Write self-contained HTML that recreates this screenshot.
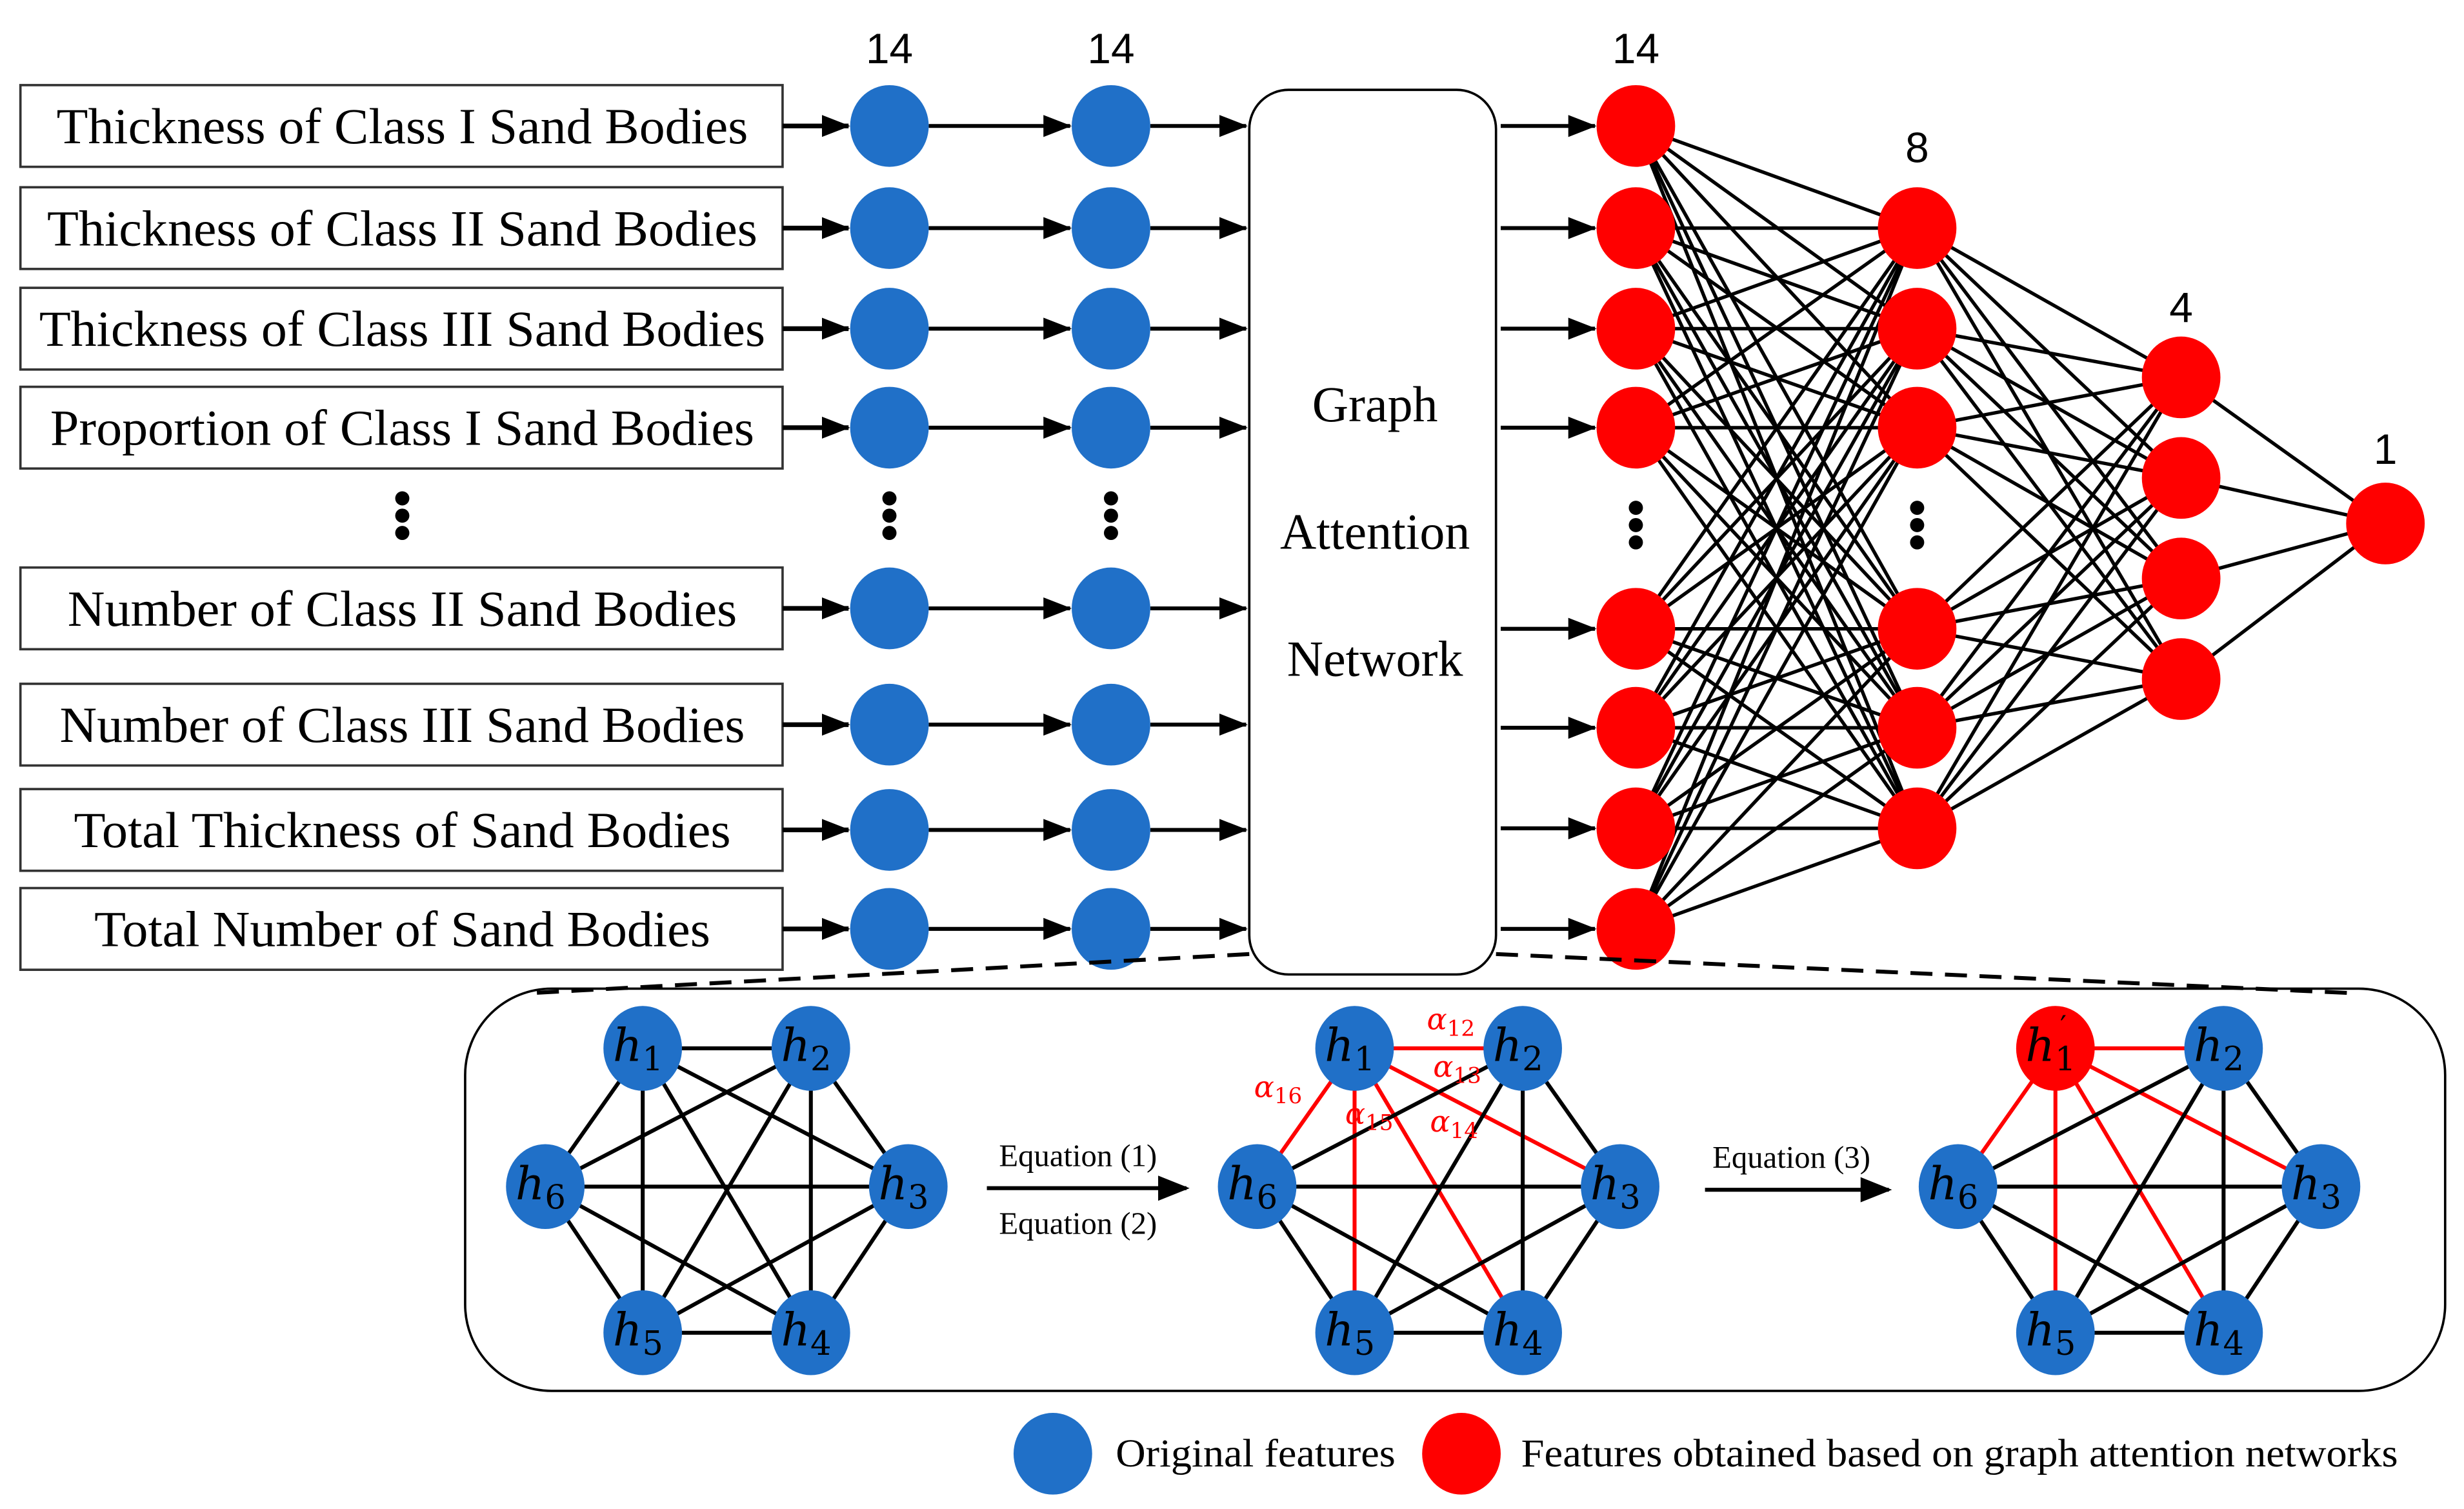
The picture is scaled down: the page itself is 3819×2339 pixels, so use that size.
<!DOCTYPE html>
<html><head><meta charset="utf-8"><style>html,body{margin:0;padding:0;background:#fff}svg{display:block}</style></head>
<body>
<svg id="s" xmlns="http://www.w3.org/2000/svg" width="3819" height="2339" viewBox="0 0 1568 960">
<defs><marker id="ar" markerWidth="18" markerHeight="16" refX="17" refY="8" orient="auto" markerUnits="userSpaceOnUse" viewBox="0 0 18 16"><path d="M0,1 L18,8 L0,15 z" fill="#000"/></marker>
<marker id="ar2" markerWidth="20" markerHeight="20" refX="18" refY="10" orient="auto" markerUnits="userSpaceOnUse" viewBox="0 0 20 20"><path d="M0,2 L20,10 L0,18 z" fill="#000"/></marker></defs>
<g id="g"></g>
</svg>
<script>
const NS="http://www.w3.org/2000/svg",g=document.getElementById('g');
function el(t,a,txt){const e=document.createElementNS(NS,t);for(const k in a)e.setAttribute(k,a[k]);if(txt!==undefined)e.textContent=txt;g.appendChild(e);return e;}
const B="#2070C8",R="#FF0000";
const rows=[80,145,209,272,387,461,528,591];
const labels=["Thickness of Class I Sand Bodies","Thickness of Class II Sand Bodies","Thickness of Class III Sand Bodies","Proportion of Class I Sand Bodies","Number of Class II Sand Bodies","Number of Class III Sand Bodies","Total Thickness of Sand Bodies","Total Number of Sand Bodies"];
const tl=[440,452,462,448,426,436,418,392];
rows.forEach((y,i)=>{
 el('rect',{x:13,y:y-26,width:485,height:52,fill:'#fff',stroke:'#333','stroke-width':1.5});
 el('text',{x:256,y:y+11,'text-anchor':'middle','font-family':'Liberation Serif, serif','font-size':32,textLength:tl[i],lengthAdjust:'spacingAndGlyphs'},labels[i]);
 el('line',{x1:498,y1:y,x2:540,y2:y,stroke:'#000','stroke-width':3,'marker-end':'url(#ar)'});
 el('line',{x1:591,y1:y,x2:681,y2:y,stroke:'#000','stroke-width':2.5,'marker-end':'url(#ar)'});
 el('line',{x1:732,y1:y,x2:793,y2:y,stroke:'#000','stroke-width':2.5,'marker-end':'url(#ar)'});
 el('ellipse',{cx:566,cy:y,rx:25,ry:26,fill:B});
 el('ellipse',{cx:707,cy:y,rx:25,ry:26,fill:B});
});
function dots(x,y){[-11,0,11].forEach(d=>el('circle',{cx:x,cy:y+d,r:4.5,fill:'#000'}));}
dots(256,328);dots(566,328);dots(707,328);dots(1041,334);dots(1220,334);
[[566,'14'],[707,'14'],[1041,'14']].forEach(a=>el('text',{x:a[0],y:40,'text-anchor':'middle','font-family':'Liberation Sans, sans-serif','font-size':27},a[1]));
el('rect',{x:795,y:57,width:157,height:563,rx:25,fill:'#fff',stroke:'#000','stroke-width':1.5});
[['Graph',268],['Attention',349],['Network',430]].forEach(a=>el('text',{x:875,y:a[1],'text-anchor':'middle','font-family':'Liberation Serif, serif','font-size':32},a[0]));
const r3=[80,145,209,272,400,463,527,591],r8=[145,209,272,400,463,527],r4=[240,304,368,432];
r3.forEach(y=>el('line',{x1:955,y1:y,x2:1015,y2:y,stroke:'#000','stroke-width':2.5,'marker-end':'url(#ar)'}));
r3.forEach(a=>r8.forEach(b=>el('line',{x1:1041,y1:a,x2:1220,y2:b,stroke:'#000','stroke-width':2.2})));
r8.forEach(a=>r4.forEach(b=>el('line',{x1:1220,y1:a,x2:1388,y2:b,stroke:'#000','stroke-width':2.2})));
r4.forEach(a=>el('line',{x1:1388,y1:a,x2:1518,y2:333,stroke:'#000','stroke-width':2.2}));
r3.forEach(y=>el('ellipse',{cx:1041,cy:y,rx:25,ry:26,fill:R}));
r8.forEach(y=>el('ellipse',{cx:1220,cy:y,rx:25,ry:26,fill:R}));
r4.forEach(y=>el('ellipse',{cx:1388,cy:y,rx:25,ry:26,fill:R}));
el('ellipse',{cx:1518,cy:333,rx:25,ry:26,fill:R});
[[1220,'8',103],[1388,'4',205],[1518,'1',295]].forEach(a=>el('text',{x:a[0],y:a[2],'text-anchor':'middle','font-family':'Liberation Sans, sans-serif','font-size':27},a[1]));
el('line',{x1:795,y1:607,x2:335,y2:632,stroke:'#000','stroke-width':2.5,'stroke-dasharray':'14,8'});
el('line',{x1:952,y1:607,x2:1500,y2:632,stroke:'#000','stroke-width':2.5,'stroke-dasharray':'14,8'});
el('rect',{x:296,y:629,width:1260,height:256,rx:55,fill:'none',stroke:'#000','stroke-width':1.5});
function graph(ox,redMode){
 const P=[[409,667],[516,667],[578,755],[516,848],[409,848],[347,755]].map(p=>[p[0]+ox,p[1]]);
 for(let i=0;i<6;i++)for(let j=i+1;j<6;j++){
  const red=redMode&&i==0;
  el('line',{x1:P[i][0],y1:P[i][1],x2:P[j][0],y2:P[j][1],stroke:red?R:'#000','stroke-width':2.5});
 }
 P.forEach((p,i)=>{
  el('ellipse',{cx:p[0],cy:p[1],rx:25,ry:27,fill:(redMode==2&&i==0)?R:B});
  const t=el('text',{x:p[0]-3,y:p[1]+8,'text-anchor':'middle','font-family':'DejaVu Serif, serif','font-style':'italic','font-size':29},'');
  const h=document.createElementNS(NS,'tspan');h.textContent='h';t.appendChild(h);
  const s=document.createElementNS(NS,'tspan');s.setAttribute('font-style','normal');s.setAttribute('font-size','21');s.setAttribute('dy','6');s.textContent=String(i+1);t.appendChild(s);
  if(redMode==2&&i==0){el('text',{x:p[0]+3,y:p[1]-8,'font-family':'DejaVu Serif, serif','font-size':18},"′");}
 });
}
graph(0,0);graph(453,1);graph(899,2);
[['α',918,655,'12'],['α',922,685,'13'],['α',808,698,'16'],['α',866,715,'15'],['α',920,720,'14']].forEach(a=>{
 const t=el('text',{x:a[1]-10,y:a[2],'font-family':'DejaVu Serif, serif','font-style':'italic','font-size':19,fill:R},'');
 const h=document.createElementNS(NS,'tspan');h.textContent=a[0];t.appendChild(h);
 const s=document.createElementNS(NS,'tspan');s.setAttribute('font-style','normal');s.setAttribute('font-size','14');s.setAttribute('dy','4');s.textContent=a[3];t.appendChild(s);
});
el('line',{x1:628,y1:756,x2:755,y2:756,stroke:'#000','stroke-width':2.5,'marker-end':'url(#ar2)'});
el('line',{x1:1085,y1:757,x2:1202,y2:757,stroke:'#000','stroke-width':2.5,'marker-end':'url(#ar2)'});
[['Equation (1)',686,742],['Equation (2)',686,785],['Equation (3)',1140,743]].forEach(a=>el('text',{x:a[1],y:a[2],'text-anchor':'middle','font-family':'Liberation Serif, serif','font-size':20},a[0]));
el('ellipse',{cx:670,cy:925,rx:25,ry:26,fill:B});
el('text',{x:710,y:933,'font-family':'Liberation Serif, serif','font-size':25,textLength:178,lengthAdjust:'spacingAndGlyphs'},'Original features');
el('ellipse',{cx:930,cy:925,rx:25,ry:26,fill:R});
el('text',{x:968,y:933,'font-family':'Liberation Serif, serif','font-size':25,textLength:558,lengthAdjust:'spacingAndGlyphs'},'Features obtained based on graph attention networks');
</script>
</body></html>
